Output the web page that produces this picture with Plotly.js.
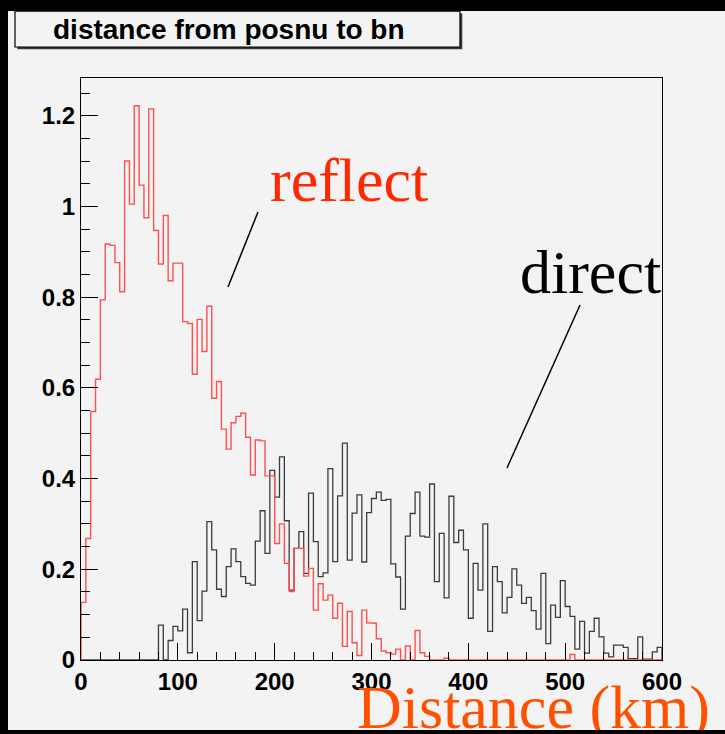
<!DOCTYPE html>
<html>
<head>
<meta charset="utf-8">
<script src="https://cdn.plot.ly/plotly-3.0.1.min.js"></script>
<style>
  html, body { margin: 0; padding: 0; background: #000; width: 725px; height: 734px; overflow: hidden; }
  #pad { position: absolute; left: 8px; top: 11px; width: 717px; height: 719px; background: #f3f3f3; }
</style>
</head>
<body>
<div id="pad"></div>
<script>
// Histogram binning: 120 bins of 5 km between 0 and 600 km
const xMin = 0;
const xMax = 600;

// Bin contents, "reflect" sample (red)
const reflectValues = [
  0.127, 0.268, 0.548, 0.619, 0.794, 0.917, 0.914, 0.876, 0.812, 1.100,
  1.005, 1.222, 1.047, 0.975, 1.215, 0.947, 0.873, 0.980, 0.836, 0.875,
  0.875, 0.746, 0.742, 0.630, 0.751, 0.680, 0.780, 0.577, 0.614, 0.509,
  0.465, 0.523, 0.537, 0.544, 0.491, 0.408, 0.485, 0.483, 0.406, 0.406,
  0.257, 0.300, 0.213, 0.151, 0.246, 0.246, 0.185, 0.202, 0.110, 0.168,
  0.132, 0.143, 0.092, 0.125, 0.030, 0.107, 0.038, 0.010, 0.110, 0.082,
  0.081, 0.047, 0.020, 0.016, 0.013, 0.024, 0.000, 0.031, 0.000, 0.065,
  0.016, 0.008, 0.000, 0.000, 0.000, 0.004, 0.000, 0.000, 0.000, 0.000,
  0.000, 0.000, 0.000, 0.000, 0.000, 0.000, 0.000, 0.000, 0.000, 0.000,
  0.000, 0.000, 0.000, 0.000, 0.000, 0.000, 0.000, 0.000, 0.000, 0.000,
  0.000, 0.012, 0.000, 0.000, 0.000, 0.000, 0.000, 0.000, 0.000, 0.000,
  0.000, 0.000, 0.000, 0.000, 0.000, 0.000, 0.000, 0.000, 0.000, 0.000
];

// Bin contents, "direct" sample (black)
const directValues = [
  0.000, 0.000, 0.000, 0.000, 0.000, 0.000, 0.000, 0.000, 0.000, 0.000,
  0.000, 0.000, 0.000, 0.000, 0.000, 0.000, 0.077, 0.000, 0.043, 0.074,
  0.064, 0.112, 0.016, 0.217, 0.087, 0.152, 0.305, 0.243, 0.156, 0.140,
  0.206, 0.245, 0.217, 0.184, 0.169, 0.165, 0.262, 0.329, 0.235, 0.418,
  0.359, 0.448, 0.307, 0.154, 0.246, 0.283, 0.191, 0.368, 0.261, 0.184,
  0.192, 0.422, 0.217, 0.362, 0.478, 0.220, 0.324, 0.364, 0.216, 0.325,
  0.356, 0.370, 0.352, 0.354, 0.212, 0.183, 0.112, 0.273, 0.323, 0.370,
  0.273, 0.271, 0.388, 0.173, 0.279, 0.137, 0.361, 0.259, 0.286, 0.243,
  0.092, 0.213, 0.154, 0.300, 0.063, 0.206, 0.173, 0.104, 0.138, 0.201,
  0.165, 0.125, 0.138, 0.109, 0.068, 0.191, 0.036, 0.121, 0.094, 0.175,
  0.118, 0.096, 0.024, 0.085, 0.015, 0.063, 0.092, 0.051, 0.015, 0.007,
  0.033, 0.033, 0.028, 0.003, 0.003, 0.051, 0.002, 0.002, 0.018, 0.028
];

// Axis tick labels
const xTickValues = [0, 100, 200, 300, 400, 500, 600];
const xTickLabels = ['0', '100', '200', '300', '400', '500', '600'];
const yTickValues = [0, 0.2, 0.4, 0.6, 0.8, 1.0, 1.2];
const yTickLabels = ['0', '0.2', '0.4', '0.6', '0.8', '1', '1.2'];

// Step outline of a histogram (ROOT-style "hist" drawing)
function outline(values) {
  const w = (xMax - xMin) / values.length;
  const xs = [xMin], ys = [0];
  values.forEach((v, i) => {
    xs.push(xMin + i * w, xMin + (i + 1) * w);
    ys.push(v, v);
  });
  xs.push(xMax); ys.push(0);
  return { x: xs, y: ys };
}

const yMax = 1.05 * Math.max(...reflectValues, ...directValues);

const direct = outline(directValues);
const reflect = outline(reflectValues);

const traces = [
  { type: 'scatter', mode: 'lines', name: 'direct', x: direct.x, y: direct.y,
    line: { color: 'rgb(60,60,60)', width: 1.3 }, hoverinfo: 'skip' },
  { type: 'scatter', mode: 'lines', name: 'reflect', x: reflect.x, y: reflect.y,
    line: { color: 'rgb(255,80,80)', width: 1.4 }, hoverinfo: 'skip' }
];

const bg = '#f3f3f3';
const tickFont = { family: 'Liberation Sans, Arial, sans-serif', size: 24, color: '#000', weight: 'bold' };
const serif = 'Liberation Serif, Times New Roman, serif';

const layout = {
  width: 717, height: 719,
  margin: { l: 73, r: 63, t: 67, b: 70, pad: 0 },
  paper_bgcolor: bg, plot_bgcolor: bg,
  showlegend: false,
  xaxis: {
    range: [xMin, xMax], showgrid: false, zeroline: false,
    showline: true, linecolor: '#000', linewidth: 1, mirror: true,
    ticks: 'inside', ticklen: 17, tickwidth: 1, tickcolor: '#000',
    tickvals: xTickValues, ticktext: xTickLabels, tickfont: tickFont,
    minor: { dtick: 20, ticks: 'inside', ticklen: 8, tickwidth: 1, tickcolor: '#000', showgrid: false }
  },
  yaxis: {
    range: [0, yMax], showgrid: false, zeroline: false,
    showline: true, linecolor: '#000', linewidth: 1, mirror: true,
    ticks: 'inside', ticklen: 17, tickwidth: 1, tickcolor: '#000',
    tickvals: yTickValues, ticktext: yTickLabels, tickfont: tickFont,
    minor: { dtick: 0.05, ticks: 'inside', ticklen: 9, tickwidth: 1, tickcolor: '#000', showgrid: false }
  },
  shapes: [
    // title pave: shadow then box
    { type: 'rect', xref: 'paper', yref: 'paper', layer: 'above',
      x0: -0.1136 + 0.0040, x1: 0.6523 + 0.0040, y0: 1.0533 - 0.0040, y1: 1.1150 - 0.0040,
      fillcolor: '#3a3a3a', line: { width: 0 } },
    { type: 'rect', xref: 'paper', yref: 'paper', layer: 'above',
      x0: -0.1136, x1: 0.6523, y0: 1.0533, y1: 1.1150,
      fillcolor: bg, line: { color: '#000', width: 1.2 } },
    // pointer lines from the labels to the curves
    { type: 'line', xref: 'paper', yref: 'paper', x0: 0.3046, y0: 0.7698, x1: 0.2530, y1: 0.6409,
      line: { color: '#000', width: 1.5 } },
    { type: 'line', xref: 'paper', yref: 'paper', x0: 0.8589, y0: 0.6100, x1: 0.7332, y1: 0.3299,
      line: { color: '#000', width: 1.5 } }
  ],
  annotations: [
    { text: 'distance from posnu to bn', xref: 'paper', yref: 'paper',
      x: -0.0510, y: 1.0825, xanchor: 'left', yanchor: 'middle', showarrow: false,
      font: { family: 'Liberation Sans, Arial, sans-serif', size: 28, color: '#000', weight: 'bold' } },
    { text: 'reflect', xref: 'paper', yref: 'paper',
      x: 0.4613, y: 0.8247, xanchor: 'center', yanchor: 'middle', showarrow: false,
      font: { family: serif, size: 62, color: 'rgb(255,40,0)' } },
    { text: 'direct', xref: 'paper', yref: 'paper',
      x: 0.8761, y: 0.6667, xanchor: 'center', yanchor: 'middle', showarrow: false,
      font: { family: serif, size: 62, color: '#000' } },
    { text: 'Distance (km)', xref: 'paper', yref: 'paper',
      x: 0.7788, y: -0.082, xanchor: 'center', yanchor: 'middle', showarrow: false,
      font: { family: serif, size: 62, color: 'rgb(255,80,0)' } }
  ]
};

Plotly.newPlot('pad', traces, layout, { displayModeBar: false, staticPlot: true });
</script>
</body>
</html>
